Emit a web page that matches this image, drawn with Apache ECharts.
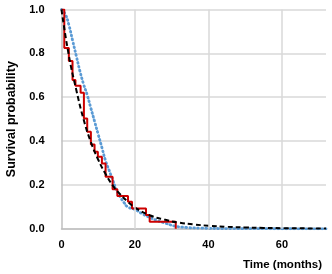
<!DOCTYPE html>
<html>
<head>
<meta charset="utf-8">
<script src="https://cdn.jsdelivr.net/npm/echarts@6/dist/echarts.min.js"></script>
<style>
  html, body { margin: 0; padding: 0; background: #fff; }
  #chart { width: 332px; height: 274px; }
</style>
</head>
<body>
<div id="chart"></div>
<script>
// Kaplan-Meier steps: [time, survival after the drop]
const kmTimes = [0, 0.76, 2.0, 3.0, 3.8, 5.2, 6.1, 7.0, 8.0, 9.0, 9.9, 11.0, 12.0, 13.9, 15.2, 18.1, 19.2, 23.0, 24.0, 31.1]
const kmSurv = [1.0, 0.825, 0.765, 0.678, 0.652, 0.62, 0.503, 0.442, 0.384, 0.351, 0.328, 0.298, 0.237, 0.18, 0.149, 0.123, 0.093, 0.063, 0.032, 0.0]

// fitted model 1 (black dashed)
const fitATimes = [0, 2, 4, 6, 8, 10, 12, 14, 16, 18, 20, 24, 28, 32, 36, 40, 45, 50, 55, 60, 72]
const fitASurv = [1.0, 0.79, 0.635, 0.5, 0.395, 0.315, 0.25, 0.197, 0.157, 0.124, 0.097, 0.062, 0.042, 0.028, 0.02, 0.014, 0.009, 0.006, 0.004, 0.003, 0.001]

// fitted model 2 (blue dotted)
const fitBTimes = [0, 1, 2, 3, 4, 5, 6, 7, 8, 9, 10, 11, 12, 13, 14, 15, 16, 17, 18, 20, 22, 24, 26, 28, 31, 34, 38, 45, 72]
const fitBSurv = [1.0, 0.98, 0.93, 0.86, 0.79, 0.72, 0.66, 0.61, 0.55, 0.49, 0.43, 0.37, 0.31, 0.265, 0.22, 0.175, 0.145, 0.12, 0.10, 0.088, 0.068, 0.052, 0.038, 0.027, 0.012, 0.006, 0.003, 0.001, 0]

const xTicks = [0, 20, 40, 60]
const yTicks = [0.0, 0.2, 0.4, 0.6, 0.8, 1.0]

const pair = (xs, ys) => xs.map((x, i) => [x, ys[i]])
const font = 'Liberation Sans'
const gridColor = '#d9d9d9'

const chart = echarts.init(document.getElementById('chart'))
chart.setOption({
  animation: false,
  textStyle: { fontFamily: font },
  title: {
    text: 'Time (months)',
    right: 10,
    bottom: 3,
    padding: 0,
    textStyle: { fontSize: 11.5, fontWeight: 'bold', color: '#000', fontFamily: font }
  },
  grid: {
    left: 61.5,
    right: 6,
    top: 9.5,
    bottom: 45.2,
    outerBoundsMode: 'none'
  },
  xAxis: {
    type: 'value',
    min: 0,
    max: 72,
    interval: 20,
    axisLine: { show: true, lineStyle: { color: '#bfbfbf', width: 1.5 } },
    axisTick: { show: false },
    axisLabel: {
      margin: 11,
      fontSize: 11,
      fontWeight: 'bold',
      color: '#000',
      showMaxLabel: false,
      formatter: v => (xTicks.includes(v) ? String(v) : '')
    },
    // vertical grid drawn as markLines so there is none at the max edge
    splitLine: { show: false }
  },
  yAxis: {
    type: 'value',
    min: 0,
    max: 1,
    interval: 0.2,
    name: 'Survival probability',
    nameLocation: 'middle',
    nameGap: 43,
    nameTextStyle: { fontSize: 12.5, fontWeight: 'bold', color: '#000', fontFamily: font },
    axisLine: { show: true, lineStyle: { color: '#bfbfbf', width: 1.5 } },
    axisTick: { show: false },
    axisLabel: {
      margin: 17,
      fontSize: 11,
      fontWeight: 'bold',
      color: '#000',
      formatter: v => yTicks.find(t => Math.abs(t - v) < 1e-6).toFixed(1)
    },
    splitLine: { show: true, lineStyle: { color: gridColor, width: 1.5 } }
  },
  series: [
    {
      name: 'grid',
      type: 'line',
      data: [],
      z: 1,
      markLine: {
        silent: true,
        symbol: 'none',
        label: { show: false },
        lineStyle: { color: gridColor, width: 1.5, type: 'solid' },
        data: xTicks.filter(t => t > 0).map(t => ({ xAxis: t }))
      }
    },
    {
      name: 'Model B',
      type: 'line',
      smooth: true,
      showSymbol: false,
      data: pair(fitBTimes, fitBSurv),
      lineStyle: { color: '#5b9bd5', width: 2.8, type: [0.8, 3.2], cap: 'round' },
      z: 2
    },
    {
      name: 'Kaplan-Meier',
      type: 'line',
      step: 'end',
      showSymbol: false,
      data: pair(kmTimes, kmSurv),
      lineStyle: { color: '#cc0000', width: 2 },
      z: 3
    },
    {
      name: 'Model A',
      type: 'line',
      smooth: true,
      showSymbol: false,
      data: pair(fitATimes, fitASurv),
      lineStyle: { color: '#000', width: 2, type: [5, 3] },
      z: 4
    }
  ]
})
</script>
</body>
</html>
